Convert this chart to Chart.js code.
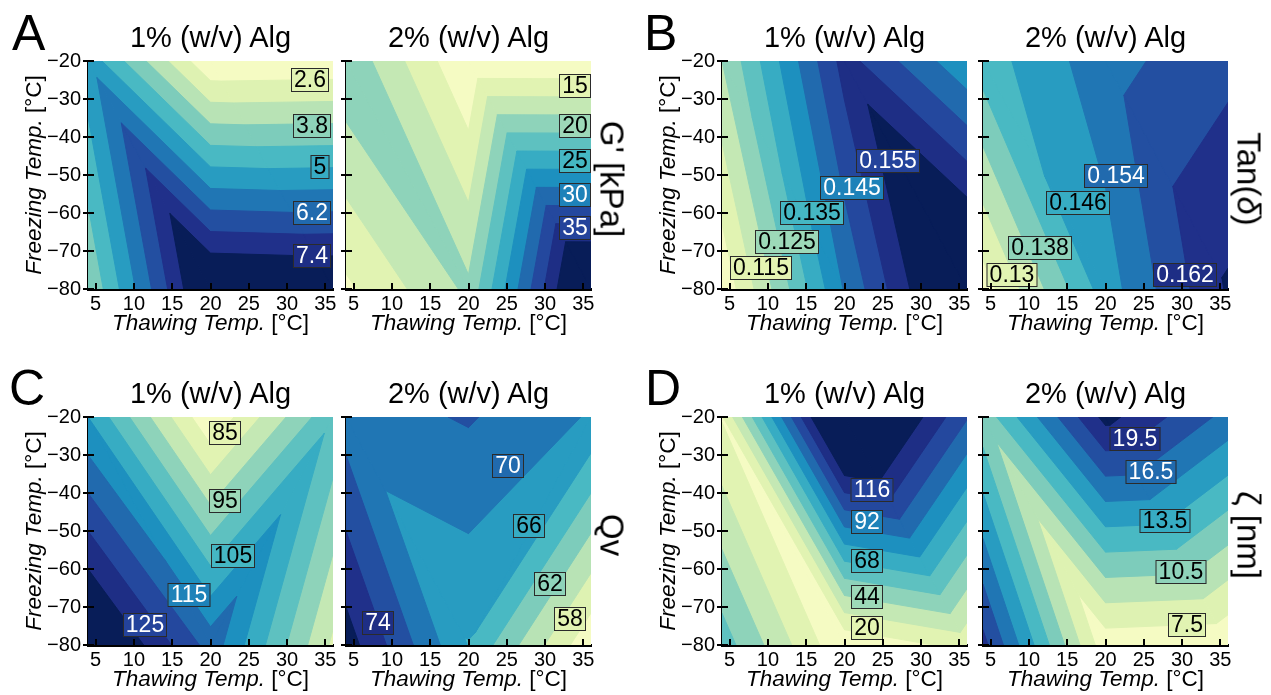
<!DOCTYPE html>
<html>
<head>
<meta charset="utf-8">
<script src="https://cdn.jsdelivr.net/npm/chart.js@4.4.1/dist/chart.umd.min.js"></script>
<style>
  body { margin: 0; background: #fff; }
  #fig { position: relative; width: 1271px; height: 695px; overflow: hidden; font-family: "Liberation Sans", Arial, sans-serif; }
  #fig canvas { position: absolute; }
  .txt { position: absolute; white-space: nowrap; line-height: 1; color: #000; }
</style>
</head>
<body>
<div id="fig"></div>
<script>
// design grid: thawing temps (x) and freezing temps (y)
var thawTemps = [4, 20, 36];
var freezeTemps = [-80, -20];
var xTickVals = [5, 10, 15, 20, 25, 30, 35];
var yTickVals = [-80, -70, -60, -50, -40, -30, -20];

// G' [kPa] -- one array per freezing temp, ordered like thawTemps
// last level is the top of the open-ended darkest band
var gMod1At80 = [3.83, 8.4, 8.3];
var gMod1At20 = [5.38, 2.05, 2.1];
var gMod1Levels = [2.0, 2.6, 3.2, 3.8, 4.4, 5.0, 5.6, 6.2, 6.8, 7.4, 8.5];
var gMod1Labels = [2.6, 3.8, 5, 6.2, 7.4];

var gMod2At80 = [14.5, 20.5, 44];
var gMod2At20 = [22, 12.6, 12.55];
var gMod2Levels = [12.5, 15, 17.5, 20, 22.5, 25, 27.5, 30, 32.5, 35, 37.5, 44.5];
var gMod2Labels = [15, 20, 25, 30, 35];

// Tan(delta)
var tan1At80 = [0.111, 0.1454, 0.1728];
var tan1At20 = [0.125, 0.157, 0.141];
var tan1Levels = [0.11, 0.115, 0.12, 0.125, 0.13, 0.135, 0.14, 0.145, 0.15, 0.155, 0.16, 0.173];
var tan1Labels = [0.115, 0.125, 0.135, 0.145, 0.155];

var tan2At80 = [0.128, 0.148, 0.1625];
var tan2At20 = [0.144, 0.1525, 0.157];
var tan2Levels = [0.126, 0.13, 0.134, 0.138, 0.142, 0.146, 0.15, 0.154, 0.158, 0.162, 0.166];
var tan2Labels = [0.13, 0.138, 0.146, 0.154, 0.162];

// Qv
var qv1At80 = [140, 118, 89];
var qv1At20 = [110, 80.5, 104];
var qv1Levels = [80, 85, 90, 95, 100, 105, 110, 115, 120, 125, 130, 140];
var qv1Labels = [85, 95, 105, 115, 125];

var qv2At80 = [75, 65.9, 56.4];
var qv2At20 = [69, 70.2, 67.8];
var qv2Levels = [56, 58, 60, 62, 64, 66, 68, 70, 72, 74, 76];
var qv2Labels = [70, 66, 62, 58, 74];

// zeta [nm]
var zeta1At80 = [62, 9.3, 24];
var zeta1At20 = [19, 169, 105];
var zeta1Levels = [8, 20, 32, 44, 56, 68, 80, 92, 104, 116, 128, 170];
var zeta1Labels = [116, 92, 68, 44, 20];

var zeta2At80 = [18.5, 6.5, 6.2];
var zeta2At20 = [11, 20, 16];
var zeta2Levels = [6, 7.5, 9, 10.5, 12, 13.5, 15, 16.5, 18, 19.5, 21];
var zeta2Labels = [19.5, 16.5, 13.5, 10.5, 7.5];

// where each contour label box sits (thaw, freeze)
var gMod1Spots = [[33.0, -24.9], [33.2, -37], [34.3, -47.9], [33.2, -60], [33.2, -71.4]];
var gMod2Spots = [[33.9, -26.7], [33.9, -37.2], [33.9, -46.4], [33.9, -55.2], [33.9, -63.9]];
var tan1Spots = [[9.1, -74.5], [12.5, -67.5], [15.8, -60], [21.0, -53.4], [25.7, -46.4]];
var tan2Spots = [[7.8, -76.2], [11.5, -69.2], [16.4, -57.4], [21.4, -50.3], [30.4, -76.2]];
var qv1Spots = [[21.9, -24.2], [21.9, -42.2], [22.9, -56.7], [17.2, -66.8], [11.5, -74.7]];
var qv2Spots = [[25.2, -33.0], [27.9, -48.7], [30.6, -64], [33.3, -73.2], [8.2, -74.1]];
var zeta1Spots = [[23.6, -39.1], [23.0, -47.6], [23.0, -57.9], [23.0, -67.3], [23.0, -75.5]];
var zeta2Spots = [[23.9, -25.8], [25.9, -34.6], [27.8, -47.3], [29.8, -60.9], [30.6, -74.8]];

var panelTitles = ['1% (w/v) Alg', '2% (w/v) Alg'];
var panelLetters = ['A', 'B', 'C', 'D'];
var sideLabels = ["G' [kPa]", 'Tan(<i>&delta;</i>)', 'Qv', '&zeta; [nm]'];

var FONT = '"Liberation Sans", Arial, sans-serif';
var colLeft = [88, 346, 722, 983];
var rowTop = [61, 417];
var plotW = 245, plotH = 228;
var padL = 60, padT = 12, padR = 16, padB = 34;

// diag 'a' splits a cell top-left -> bottom-right, 'b' bottom-left -> top-right
var panels = [
  { col: 0, row: 0, low: gMod1At80, high: gMod1At20, levels: gMod1Levels, labels: gMod1Labels, spots: gMod1Spots, diag: ['a', 'a'] },
  { col: 1, row: 0, low: gMod2At80, high: gMod2At20, levels: gMod2Levels, labels: gMod2Labels, spots: gMod2Spots, diag: ['a', 'a'] },
  { col: 2, row: 0, low: tan1At80, high: tan1At20, levels: tan1Levels, labels: tan1Labels, spots: tan1Spots, diag: ['a', 'a'] },
  { col: 3, row: 0, low: tan2At80, high: tan2At20, levels: tan2Levels, labels: tan2Labels, spots: tan2Spots, diag: ['a', 'a'] },
  { col: 0, row: 1, low: qv1At80, high: qv1At20, levels: qv1Levels, labels: qv1Labels, spots: qv1Spots, diag: ['a', 'b'] },
  { col: 1, row: 1, low: qv2At80, high: qv2At20, levels: qv2Levels, labels: qv2Labels, spots: qv2Spots, diag: ['a', 'b'] },
  { col: 2, row: 1, low: zeta1At80, high: zeta1At20, levels: zeta1Levels, labels: zeta1Labels, spots: zeta1Spots, diag: ['a', 'a'] },
  { col: 3, row: 1, low: zeta2At80, high: zeta2At20, levels: zeta2Levels, labels: zeta2Labels, spots: zeta2Spots, diag: ['a', 'a'] }
];

var ylgnbuStops = ['#ffffd9', '#edf8b1', '#c7e9b4', '#7fcdbb', '#41b6c4', '#1d91c0', '#225ea8', '#253494', '#081d58'];

function hexRgb(h) {
  return [parseInt(h.substr(1, 2), 16), parseInt(h.substr(3, 2), 16), parseInt(h.substr(5, 2), 16)];
}

function ylgnbu(t) {
  t = Math.min(1, Math.max(0, t)) * 8;
  var i = Math.min(7, Math.floor(t)), f = t - i;
  var a = hexRgb(ylgnbuStops[i]), b = hexRgb(ylgnbuStops[i + 1]);
  return 'rgb(' + [0, 1, 2].map(function (j) { return Math.round(a[j] + (b[j] - a[j]) * f); }).join(',') + ')';
}

function levelT(frac) {
  return 0.07 + 0.93 * frac;
}

function triangles(p) {
  var tris = [];
  for (var i = 0; i < thawTemps.length - 1; i++) {
    var bl = [thawTemps[i], freezeTemps[0], p.low[i]];
    var br = [thawTemps[i + 1], freezeTemps[0], p.low[i + 1]];
    var tl = [thawTemps[i], freezeTemps[1], p.high[i]];
    var tr = [thawTemps[i + 1], freezeTemps[1], p.high[i + 1]];
    if (p.diag[i] === 'a') {
      tris.push([tl, bl, br], [tl, tr, br]);
    } else {
      tris.push([bl, tl, tr], [bl, br, tr]);
    }
  }
  return tris;
}

// part of a triangle where value >= lvl
function clipAbove(poly, lvl) {
  var out = [];
  for (var i = 0; i < poly.length; i++) {
    var a = poly[i], b = poly[(i + 1) % poly.length];
    var ina = a[2] >= lvl, inb = b[2] >= lvl;
    if (ina) out.push(a);
    if (ina !== inb) {
      var t = (lvl - a[2]) / (b[2] - a[2]);
      out.push([a[0] + t * (b[0] - a[0]), a[1] + t * (b[1] - a[1]), lvl]);
    }
  }
  return out;
}

var contourFill = {
  id: 'contourFill',
  beforeDatasetsDraw: function (chart, args, opts) {
    var p = opts.panel;
    var ctx = chart.ctx, area = chart.chartArea;
    var xs = chart.scales.x, ys = chart.scales.y;
    var nb = p.levels.length - 1;
    var tris = triangles(p);
    ctx.save();
    ctx.beginPath();
    ctx.rect(area.left, area.top, area.right - area.left, area.bottom - area.top);
    ctx.clip();
    ctx.lineWidth = 1;
    ctx.lineJoin = 'round';
    for (var k = 0; k < nb; k++) {
      ctx.fillStyle = ctx.strokeStyle = ylgnbu(levelT(k / (nb - 1)));
      tris.forEach(function (tri) {
        var poly = clipAbove(tri, p.levels[k]);
        if (poly.length < 3) return;
        ctx.beginPath();
        poly.forEach(function (pt, i) {
          var px = xs.getPixelForValue(pt[0]), py = ys.getPixelForValue(pt[1]);
          if (i === 0) ctx.moveTo(px, py); else ctx.lineTo(px, py);
        });
        ctx.closePath();
        ctx.fill();
        ctx.stroke();
      });
    }
    ctx.restore();
  },
  afterDatasetsDraw: function (chart, args, opts) {
    var p = opts.panel;
    var ctx = chart.ctx;
    var xs = chart.scales.x, ys = chart.scales.y;
    ctx.save();
    ctx.font = '23px ' + FONT;
    ctx.textAlign = 'center';
    ctx.textBaseline = 'middle';
    p.labels.forEach(function (lv, i) {
      var px = Math.round(xs.getPixelForValue(p.spots[i][0]));
      var py = Math.round(ys.getPixelForValue(p.spots[i][1]));
      var txt = String(lv);
      var w = Math.round(ctx.measureText(txt).width + 6), h = 24;
      var t = levelT(p.levels.indexOf(lv) / (p.levels.length - 1));
      ctx.fillStyle = ylgnbu(t);
      ctx.fillRect(px - w / 2, py - h / 2, w, h);
      ctx.strokeStyle = '#2b2b2b';
      ctx.lineWidth = 1;
      ctx.strokeRect(px - w / 2 + 0.5, py - h / 2 + 0.5, w - 1, h - 1);
      ctx.fillStyle = t > 0.55 ? '#fff' : '#000';
      ctx.fillText(txt, px, py + 1);
    });
    ctx.restore();
  }
};

var tickMarks = {
  id: 'tickMarks',
  afterDraw: function (chart) {
    var ctx = chart.ctx, a = chart.chartArea;
    var xs = chart.scales.x, ys = chart.scales.y;
    ctx.save();
    ctx.strokeStyle = '#000';
    ctx.lineWidth = 2;
    ctx.beginPath();
    xs.ticks.forEach(function (t) {
      var px = Math.round(xs.getPixelForValue(t.value));
      ctx.moveTo(px, a.bottom);
      ctx.lineTo(px, a.bottom - 6);
    });
    ys.ticks.forEach(function (t) {
      var py = Math.round(ys.getPixelForValue(t.value));
      ctx.moveTo(a.left - 5, py);
      ctx.lineTo(a.left + 6, py);
    });
    ctx.stroke();
    ctx.restore();
  }
};

var fig = document.getElementById('fig');

function addText(html, x, y, size, how) {
  var d = document.createElement('div');
  d.className = 'txt';
  d.innerHTML = html;
  d.style.fontSize = size + 'px';
  if (how === 'up' || how === 'down') {
    d.style.left = x + 'px';
    d.style.top = y + 'px';
    d.style.transform = 'translate(-50%, -50%) rotate(' + (how === 'up' ? -90 : 90) + 'deg)';
  } else {
    d.style.left = x + 'px';
    d.style.top = (y - 0.8465 * size) + 'px';
    if (how === 'center') d.style.transform = 'translateX(-50%)';
  }
  fig.appendChild(d);
}

var gridNodes = [];
thawTemps.forEach(function (x) {
  freezeTemps.forEach(function (y) { gridNodes.push({ x: x, y: y }); });
});

panels.forEach(function (p) {
  var L = colLeft[p.col], T = rowTop[p.row];
  var cv = document.createElement('canvas');
  cv.width = padL + plotW + padR;
  cv.height = padT + plotH + padB;
  cv.style.left = (L - padL) + 'px';
  cv.style.top = (T - padT) + 'px';
  fig.appendChild(cv);

  var firstOfPair = p.col % 2 === 0;
  new Chart(cv, {
    type: 'scatter',
    data: { datasets: [{ data: gridNodes, pointRadius: 0, showLine: false }] },
    options: {
      responsive: false,
      animation: false,
      events: [],
      layout: { padding: { left: 0, top: padT, right: padR, bottom: 0 } },
      plugins: {
        legend: { display: false },
        tooltip: { enabled: false },
        contourFill: { panel: p }
      },
      scales: {
        x: {
          type: 'linear', min: 4, max: 36, z: 1,
          afterBuildTicks: function (s) { s.ticks = xTickVals.map(function (v) { return { value: v }; }); },
          afterFit: function (s) { s.height = padB; s.paddingLeft = 0; s.paddingRight = 0; },
          grid: { display: false, drawTicks: false },
          border: { display: true, color: '#000', width: 3 },
          ticks: { color: '#000', font: { family: FONT, size: 20 }, padding: 3, maxRotation: 0, autoSkip: false }
        },
        y: {
          type: 'linear', min: -80, max: -20, z: 1,
          afterBuildTicks: function (s) { s.ticks = yTickVals.map(function (v) { return { value: v }; }); },
          afterFit: function (s) { s.width = padL; s.paddingTop = 0; s.paddingBottom = 0; },
          grid: { display: false, drawTicks: false },
          border: { display: true, color: '#000', width: 3 },
          ticks: {
            display: firstOfPair,
            color: '#000', font: { family: FONT, size: 20 }, padding: 7, autoSkip: false,
            callback: function (v) { return String(v).replace('-', '\u2212'); }
          }
        }
      }
    },
    plugins: [contourFill, tickMarks]
  });

  var cx = L + plotW / 2;
  addText(panelTitles[p.col % 2], cx, T - 13, 29, 'center');
  addText('<i>Thawing Temp.</i> [°C]', cx, T + plotH + 42, 22.5, 'center');
  if (firstOfPair) {
    addText('<i>Freezing Temp.</i> [°C]', L - 54, T + plotH / 2, 22.5, 'up');
  } else {
    addText(sideLabels[p.row * 2 + (p.col - 1) / 2], L + plotW + 21, T + plotH / 2 + 4, 33, 'down');
  }
});

addText(panelLetters[0], 12, 50, 50);
addText(panelLetters[1], 644, 50, 50);
addText(panelLetters[2], 9, 405, 50);
addText(panelLetters[3], 645, 405, 50);
</script>
</body>
</html>
